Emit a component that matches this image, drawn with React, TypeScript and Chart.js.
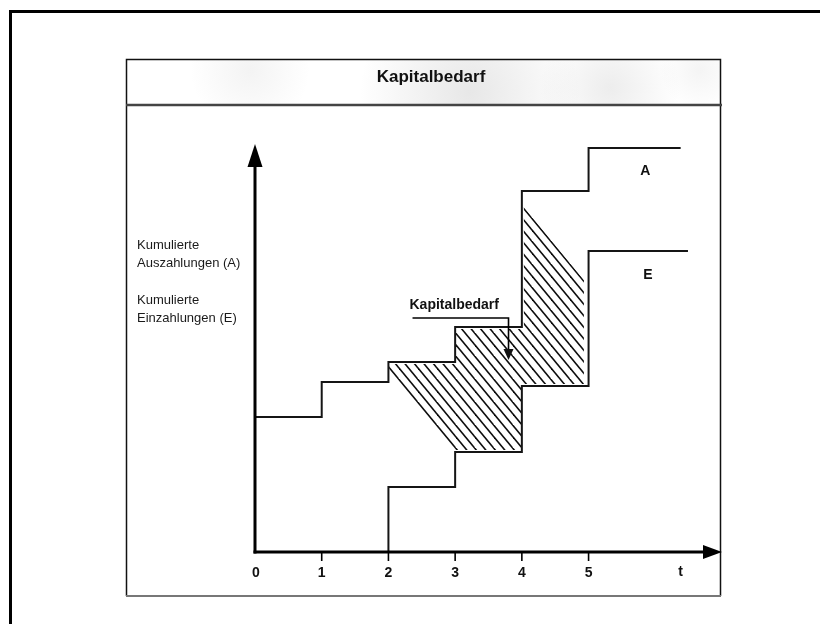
import React, { useEffect, useRef } from 'react';
import { Chart, registerables } from 'chart.js';

Chart.register(...registerables);

// ---- data ----
const titel = 'Kapitalbedarf';
const zeitpunkte = [0, 1, 2, 3, 4, 5];
const tickLabels = ['0', '1', '2', '3', '4', '5'];
const achsenLabel = 't';
const yLabelA = ['Kumulierte', 'Auszahlungen (A)'];
const yLabelE = ['Kumulierte', 'Einzahlungen (E)'];
const serienLabelA = 'A';
const serienLabelE = 'E';
const bedarfLabel = 'Kapitalbedarf';

const auszahlungenT = [0, 1, 2, 3, 4, 5, 6.38];
const auszahlungenWerte = [135, 170, 190, 225, 361, 404, 404];
const einzahlungenT = [2, 2, 3, 4, 5, 6.49];
const einzahlungenWerte = [0, 65, 100, 166, 301, 301];
const bedarfT = [2.01, 3.0, 3.0, 4.0, 4.03, 4.03, 4.93, 4.93, 4.0, 4.0, 3.0, 2.01];
const bedarfWerte = [188, 188, 223, 223, 223, 345, 272, 168, 168, 102, 102, 182];
const bedarfPfeilZiel = { x: 3.8, y: 192 };

const FONT = '"Liberation Sans", Arial, Helvetica, sans-serif';

function makeHatch(): CanvasPattern | string {
  const w = 9.5;
  const h = 11.5;
  const c = document.createElement('canvas');
  c.width = 19;
  c.height = 23;
  const g = c.getContext('2d');
  if (!g) return 'rgba(0,0,0,0.3)';
  g.strokeStyle = '#0d0d0d';
  g.lineWidth = 1.6;
  for (const dx of [-2 * w, -w, 0, w, 2 * w]) {
    g.beginPath();
    g.moveTo(dx - 2 * w, -2 * h);
    g.lineTo(dx + 4 * w, 4 * h);
    g.stroke();
  }
  const p = g.createPattern(c, 'repeat');
  return p || 'rgba(0,0,0,0.3)';
}

const dekoPlugin = {
  id: 'deko',
  beforeDraw(chart: any) {
    const ctx = chart.ctx as CanvasRenderingContext2D;
    ctx.save();
    ctx.fillStyle = '#ffffff';
    ctx.fillRect(0, 0, chart.width, chart.height);

    // header shading (scanned texture look)
    ctx.save();
    ctx.beginPath();
    ctx.rect(126, 59, 594, 46);
    ctx.clip();
    const blobs = [
      [250, 70, 60, 0.08],
      [470, 92, 110, 0.16],
      [610, 88, 70, 0.12],
      [700, 70, 40, 0.07],
    ];
    for (const [bx, by, br, ba] of blobs) {
      const gr = ctx.createRadialGradient(bx, by, 2, bx, by, br);
      gr.addColorStop(0, `rgba(110,110,110,${ba})`);
      gr.addColorStop(1, 'rgba(110,110,110,0)');
      ctx.fillStyle = gr;
      ctx.fillRect(126, 59, 594, 46);
    }
    ctx.restore();

    // outer frame
    ctx.strokeStyle = '#000';
    ctx.lineWidth = 3;
    ctx.beginPath();
    ctx.moveTo(10.5, chart.height);
    ctx.lineTo(10.5, 11.5);
    ctx.lineTo(chart.width, 11.5);
    ctx.stroke();

    // inner box
    ctx.lineWidth = 1.5;
    ctx.strokeStyle = '#111';
    ctx.beginPath();
    ctx.moveTo(126.5, 596);
    ctx.lineTo(126.5, 59.5);
    ctx.lineTo(720.5, 59.5);
    ctx.lineTo(720.5, 596);
    ctx.stroke();
    ctx.strokeStyle = '#777';
    ctx.lineWidth = 2;
    ctx.beginPath();
    ctx.moveTo(126, 596);
    ctx.lineTo(721, 596);
    ctx.stroke();

    // header divider
    ctx.strokeStyle = '#444';
    ctx.lineWidth = 2.5;
    ctx.beginPath();
    ctx.moveTo(126, 105);
    ctx.lineTo(722, 105);
    ctx.stroke();

    // title
    ctx.fillStyle = '#111';
    ctx.font = `bold 17px ${FONT}`;
    ctx.textAlign = 'center';
    ctx.textBaseline = 'middle';
    ctx.fillText(titel, 431, 77);

    // y labels
    ctx.font = `13px ${FONT}`;
    ctx.textAlign = 'left';
    ctx.fillStyle = '#1a1a1a';
    ctx.fillText(yLabelA[0], 137, 245);
    ctx.fillText(yLabelA[1], 137, 263);
    ctx.fillText(yLabelE[0], 137, 300);
    ctx.fillText(yLabelE[1], 137, 318);
    ctx.restore();
  },
  afterDatasetsDraw(chart: any) {
    const ctx = chart.ctx as CanvasRenderingContext2D;
    const xs = chart.scales.x;
    const ys = chart.scales.y;
    const area = chart.chartArea;
    const x0 = xs.getPixelForValue(0);
    const y0 = ys.getPixelForValue(0);
    ctx.save();
    ctx.strokeStyle = '#000';
    ctx.fillStyle = '#000';
    ctx.lineCap = 'butt';

    // y axis
    ctx.lineWidth = 3;
    ctx.beginPath();
    ctx.moveTo(x0, y0 + 1.5);
    ctx.lineTo(x0, area.top + 20);
    ctx.stroke();
    ctx.beginPath();
    ctx.moveTo(x0 - 7.5, area.top + 23);
    ctx.lineTo(x0, area.top);
    ctx.lineTo(x0 + 7.5, area.top + 23);
    ctx.closePath();
    ctx.fill();

    // x axis
    ctx.beginPath();
    ctx.moveTo(x0 - 1.5, y0);
    ctx.lineTo(area.right - 16, y0);
    ctx.stroke();
    ctx.beginPath();
    ctx.moveTo(area.right - 19, y0 - 7);
    ctx.lineTo(area.right, y0);
    ctx.lineTo(area.right - 19, y0 + 7);
    ctx.closePath();
    ctx.fill();

    // ticks and labels
    ctx.lineWidth = 1.6;
    ctx.font = `bold 14px ${FONT}`;
    ctx.textAlign = 'center';
    ctx.textBaseline = 'middle';
    ctx.fillStyle = '#111';
    zeitpunkte.forEach((t, i) => {
      const px = xs.getPixelForValue(t);
      if (t !== 0) {
        ctx.beginPath();
        ctx.moveTo(px, y0);
        ctx.lineTo(px, y0 + 9);
        ctx.stroke();
      }
      ctx.fillText(tickLabels[i], px + (t === 0 ? 1 : 0), y0 + 21);
    });
    ctx.fillText(achsenLabel, xs.getPixelForValue(6.38), y0 + 20);

    // series labels
    ctx.font = `bold 14px ${FONT}`;
    ctx.fillText(serienLabelA, xs.getPixelForValue(5.85), ys.getPixelForValue(381));
    ctx.fillText(serienLabelE, xs.getPixelForValue(5.89), ys.getPixelForValue(277));

    // Kapitalbedarf annotation
    const ax = xs.getPixelForValue(bedarfPfeilZiel.x);
    const ay = ys.getPixelForValue(bedarfPfeilZiel.y);
    ctx.font = `bold 14px ${FONT}`;
    ctx.textAlign = 'left';
    ctx.fillText(bedarfLabel, ax - 99, ay - 55);
    ctx.lineWidth = 1.6;
    ctx.beginPath();
    ctx.moveTo(ax - 96, ay - 42);
    ctx.lineTo(ax, ay - 42);
    ctx.lineTo(ax, ay - 9);
    ctx.stroke();
    ctx.beginPath();
    ctx.moveTo(ax - 5, ay - 11);
    ctx.lineTo(ax, ay);
    ctx.lineTo(ax + 5, ay - 11);
    ctx.closePath();
    ctx.fill();
    ctx.restore();
  },
};

export default function App() {
  const ref = useRef<HTMLCanvasElement | null>(null);

  useEffect(() => {
    if (!ref.current) return;
    const hatch = makeHatch();
    const chart = new Chart(ref.current, {
      type: 'line',
      data: {
        datasets: [
          {
            label: 'A',
            data: auszahlungenT.map((t, i) => ({ x: t, y: auszahlungenWerte[i] })),
            stepped: true,
            borderColor: '#151515',
            borderWidth: 2,
            pointRadius: 0,
            fill: false,
          },
          {
            label: 'E',
            data: einzahlungenT.map((t, i) => ({ x: t, y: einzahlungenWerte[i] })),
            stepped: true,
            borderColor: '#151515',
            borderWidth: 2,
            pointRadius: 0,
            fill: false,
          },
          {
            label: 'Kapitalbedarf',
            data: bedarfT.map((t, i) => ({ x: t, y: bedarfWerte[i] })),
            borderWidth: 0,
            borderColor: 'rgba(0,0,0,0)',
            backgroundColor: hatch as any,
            pointRadius: 0,
            fill: 'shape',
            tension: 0,
          },
        ],
      },
      options: {
        animation: false,
        responsive: false,
        devicePixelRatio: 1,
        layout: { padding: { left: 255, right: 98, top: 144, bottom: 72 } },
        plugins: {
          legend: { display: false },
          tooltip: { enabled: false },
          title: { display: false },
        },
        scales: {
          x: { type: 'linear', min: 0, max: 7, display: false },
          y: { type: 'linear', min: 0, max: 408, display: false },
        },
        events: [],
      } as any,
      plugins: [dekoPlugin as any],
    });
    return () => chart.destroy();
  }, []);

  return (
    <div style={{ position: 'absolute', left: 0, top: 0, width: 820, height: 624 }}>
      <canvas ref={ref} width={820} height={624} style={{ display: 'block' }} />
    </div>
  );
}
